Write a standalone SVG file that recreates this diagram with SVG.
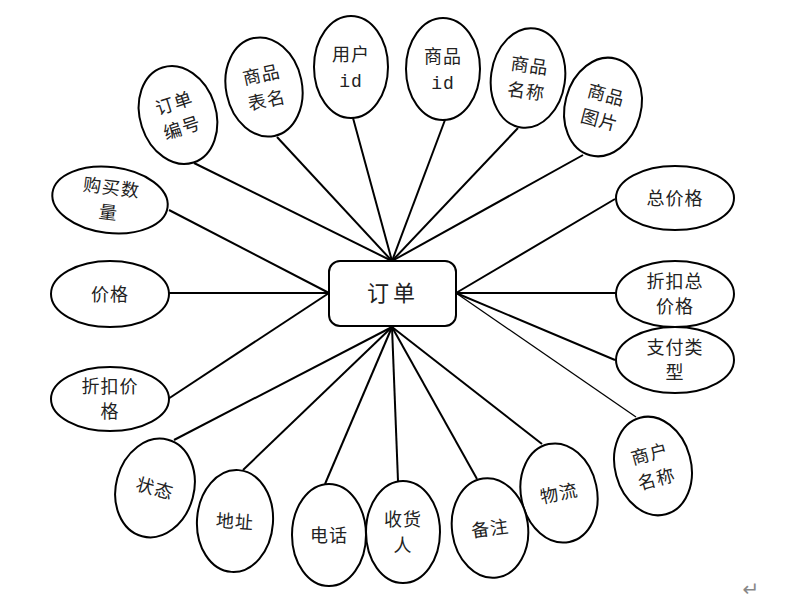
<svg xmlns="http://www.w3.org/2000/svg" width="798" height="612" viewBox="0 0 798 612">
<style>
.e{fill:#fff;stroke:#000;stroke-width:2}
.t{font-family:"Noto Sans CJK SC","Liberation Serif",serif;font-size:18px;fill:#222;text-anchor:middle;letter-spacing:1px}
.m{font-family:"Liberation Mono",monospace}
.c line{stroke:#000;stroke-width:2}
</style>
<rect width="798" height="612" fill="#fff"/>
<g class="c" id="connectors">
<line x1="392" y1="261" x2="194" y2="163"/>
<line x1="392" y1="261" x2="277" y2="137"/>
<line x1="392" y1="261" x2="353" y2="118"/>
<line x1="392" y1="261" x2="445" y2="120"/>
<line x1="392" y1="261" x2="518" y2="128"/>
<line x1="392" y1="261" x2="583" y2="155"/>
<line x1="456" y1="293" x2="615" y2="199"/>
<line x1="456" y1="293" x2="616" y2="293"/>
<line x1="456" y1="293" x2="615" y2="360"/>
<line x1="456" y1="293" x2="636" y2="417" style="stroke-width:1.3"/>
<line x1="392" y1="327" x2="542" y2="444"/>
<line x1="392" y1="327" x2="477" y2="479"/>
<line x1="392" y1="327" x2="398" y2="481"/>
<line x1="392" y1="327" x2="325" y2="484"/>
<line x1="392" y1="327" x2="243" y2="470"/>
<line x1="392" y1="327" x2="174" y2="440"/>
<line x1="329" y1="293" x2="168" y2="399"/>
<line x1="329" y1="293" x2="168" y2="293"/>
<line x1="329" y1="293" x2="169" y2="210"/>
</g>
<g id="order">
<rect x="329" y="261" width="127" height="65" rx="11" class="e"/>
<text x="393" y="301" class="t" style="font-size:22px;letter-spacing:4px">订单</text>
</g>
<g id="n1" transform="rotate(-18 178 115)">
<ellipse cx="178" cy="115" rx="38" ry="50" class="e"/>
<text x="178" y="109" class="t">订单</text><text x="178" y="135" class="t">编号</text>
</g>
<g id="n2" transform="rotate(-12 264 87)">
<ellipse cx="264" cy="87" rx="38" ry="50" class="e"/>
<text x="264" y="81" class="t">商品</text><text x="264" y="107" class="t">表名</text>
</g>
<g id="n3">
<ellipse cx="351" cy="67" rx="37" ry="51" class="e"/>
<text x="351" y="61" class="t">用户</text><text x="351" y="87" class="t m">id</text>
</g>
<g id="n4">
<ellipse cx="443" cy="69" rx="37" ry="51" class="e"/>
<text x="443" y="63" class="t">商品</text><text x="443" y="89" class="t m">id</text>
</g>
<g id="n5" transform="rotate(8 528 78)">
<ellipse cx="528" cy="78" rx="37" ry="50" class="e"/>
<text x="528" y="72" class="t">商品</text><text x="528" y="98" class="t">名称</text>
</g>
<g id="n6" transform="rotate(15 603 107)">
<ellipse cx="603" cy="107" rx="38" ry="50" class="e"/>
<text x="603" y="101" class="t">商品</text><text x="603" y="127" class="t">图片</text>
</g>
<g id="n7">
<ellipse cx="675" cy="198" rx="59" ry="32" class="e"/>
<text x="675" y="205" class="t">总价格</text>
</g>
<g id="n8">
<ellipse cx="675" cy="294" rx="59" ry="33" class="e"/>
<text x="675" y="288" class="t">折扣总</text><text x="675" y="313" class="t">价格</text>
</g>
<g id="n9">
<ellipse cx="675" cy="360" rx="59" ry="33" class="e"/>
<text x="675" y="354" class="t">支付类</text><text x="675" y="379" class="t">型</text>
</g>
<g id="n10" transform="rotate(-15 653 466)">
<ellipse cx="653" cy="466" rx="38" ry="50" class="e"/>
<text x="653" y="460" class="t">商户</text><text x="653" y="486" class="t">名称</text>
</g>
<g id="n11" transform="rotate(-12 559 493)">
<ellipse cx="559" cy="493" rx="38" ry="50" class="e"/>
<text x="559" y="500" class="t">物流</text>
</g>
<g id="n12" transform="rotate(-8 490 528)">
<ellipse cx="490" cy="528" rx="38" ry="50" class="e"/>
<text x="490" y="535" class="t">备注</text>
</g>
<g id="n13">
<ellipse cx="403" cy="532" rx="37" ry="51" class="e"/>
<text x="403" y="526" class="t">收货</text><text x="403" y="552" class="t">人</text>
</g>
<g id="n14">
<ellipse cx="329" cy="535" rx="37" ry="51" class="e"/>
<text x="329" y="542" class="t">电话</text>
</g>
<g id="n15" transform="rotate(4 235 521)">
<ellipse cx="235" cy="521" rx="38" ry="51" class="e"/>
<text x="235" y="528" class="t">地址</text>
</g>
<g id="n16" transform="rotate(15 155 488)">
<ellipse cx="155" cy="488" rx="39" ry="50" class="e"/>
<text x="155" y="495" class="t">状态</text>
</g>
<g id="n17">
<ellipse cx="110" cy="399" rx="59" ry="32" class="e"/>
<text x="110" y="393" class="t">折扣价</text><text x="110" y="418" class="t">格</text>
</g>
<g id="n18">
<ellipse cx="110" cy="294" rx="59" ry="33" class="e"/>
<text x="110" y="301" class="t">价格</text>
</g>
<g id="n19" transform="rotate(7 110 200)">
<ellipse cx="110" cy="200" rx="58" ry="33" class="e"/>
<text x="110" y="194" class="t">购买数</text><text x="110" y="219" class="t">量</text>
</g>
<text x="751" y="596" style="font-family:'DejaVu Sans',sans-serif;font-size:20px;fill:#888;text-anchor:middle">↵</text>
</svg>
